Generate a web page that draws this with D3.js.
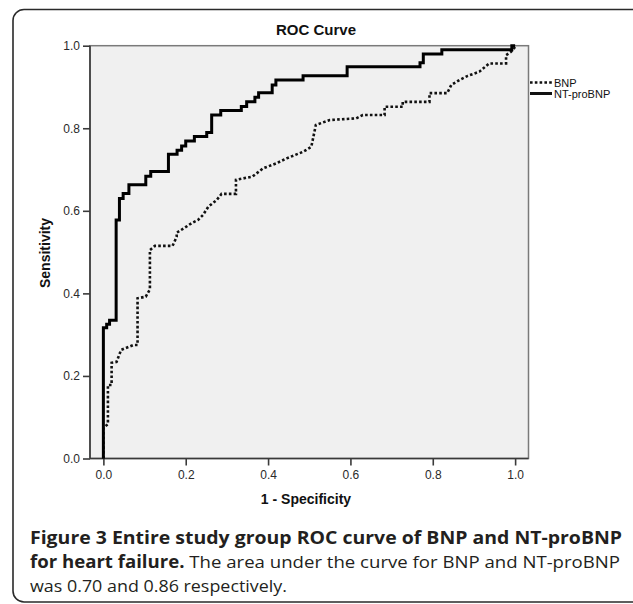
<!DOCTYPE html>
<html>
<head>
<meta charset="utf-8">
<script src="https://cdn.jsdelivr.net/npm/d3@7"></script>
<style>
  html, body { margin: 0; padding: 0; background: #fff; }
  svg { display: block; }
</style>
</head>
<body>
<svg id="chart" width="633" height="604"></svg>
<script>
// ---- data ----
const tickValues = [0, 0.2, 0.4, 0.6, 0.8, 1.0];
const seriesNames = ["BNP", "NT-proBNP"];

const bnpFpr = [0, 0, 0.011, 0.011, 0.020, 0.020, 0.032, 0.043, 0.073, 0.083, 0.083, 0.103, 0.113, 0.113, 0.125, 0.168, 0.178, 0.178, 0.196, 0.214, 0.230, 0.242, 0.255, 0.275, 0.287, 0.322, 0.322, 0.362, 0.388, 0.420, 0.445, 0.485, 0.505, 0.516, 0.550, 0.614, 0.630, 0.683, 0.683, 0.727, 0.727, 0.792, 0.792, 0.835, 0.845, 0.865, 0.885, 0.913, 0.937, 0.978, 0.978, 0.990, 1.000, 1.000];
const bnpTpr = [0, 0.075, 0.083, 0.178, 0.178, 0.232, 0.234, 0.263, 0.275, 0.275, 0.388, 0.392, 0.410, 0.505, 0.515, 0.515, 0.537, 0.547, 0.558, 0.570, 0.578, 0.590, 0.610, 0.626, 0.641, 0.641, 0.675, 0.683, 0.703, 0.715, 0.727, 0.743, 0.755, 0.808, 0.820, 0.824, 0.832, 0.832, 0.852, 0.852, 0.864, 0.864, 0.885, 0.885, 0.905, 0.917, 0.927, 0.937, 0.957, 0.957, 0.977, 0.985, 0.997, 1.000];

const ntFpr = [0, 0, 0.008, 0.008, 0.015, 0.015, 0.031, 0.031, 0.039, 0.039, 0.048, 0.048, 0.062, 0.062, 0.103, 0.103, 0.115, 0.115, 0.158, 0.158, 0.179, 0.179, 0.190, 0.190, 0.200, 0.200, 0.221, 0.221, 0.251, 0.251, 0.263, 0.263, 0.285, 0.285, 0.335, 0.335, 0.348, 0.348, 0.368, 0.368, 0.377, 0.377, 0.410, 0.410, 0.419, 0.419, 0.485, 0.485, 0.592, 0.592, 0.769, 0.769, 0.777, 0.777, 0.822, 0.822, 0.992, 0.992, 1.000];
const ntTpr = [0, 0.317, 0.317, 0.325, 0.325, 0.335, 0.335, 0.578, 0.578, 0.630, 0.630, 0.642, 0.642, 0.663, 0.663, 0.684, 0.684, 0.695, 0.695, 0.737, 0.737, 0.747, 0.747, 0.757, 0.757, 0.769, 0.769, 0.780, 0.780, 0.790, 0.790, 0.832, 0.832, 0.843, 0.843, 0.853, 0.853, 0.864, 0.864, 0.875, 0.875, 0.886, 0.886, 0.905, 0.905, 0.917, 0.917, 0.927, 0.927, 0.949, 0.949, 0.959, 0.959, 0.980, 0.980, 0.990, 0.990, 1.000, 1.000];

const titleText = "ROC Curve";
const xLabel = "1 - Specificity";
const yLabel = "Sensitivity";
const captionBold1 = "Figure 3 Entire study group ROC curve of BNP and NT-proBNP";
const captionBold2 = "for heart failure.";
const captionRest2 = " The area under the curve for BNP and NT-proBNP";
const captionLine3 = "was 0.70 and 0.86 respectively.";

// ---- drawing ----
const svg = d3.select("#chart");
const chartFont = "'Liberation Sans', Arial, sans-serif";
const capFont = "'Open Sans', 'Noto Sans', sans-serif";

// outer rounded frame
svg.append("rect")
  .attr("x", 13).attr("y", 9.5).attr("width", 632).attr("height", 592.5)
  .attr("rx", 11).attr("ry", 11)
  .attr("fill", "none").attr("stroke", "#2a2a2a").attr("stroke-width", 1.6);

const pL = 90, pR = 528.5, pT = 45.7, pB = 458.5;
const x = d3.scaleLinear().domain([-0.0325, 1.0325]).range([pL, pR]);
const y = d3.scaleLinear().domain([0, 1]).range([pB, pT]);

// plot background
svg.append("rect")
  .attr("x", pL).attr("y", pT).attr("width", pR - pL).attr("height", pB - pT)
  .attr("fill", "#f0f0f0").attr("stroke", "#7a7a7a").attr("stroke-width", 1.5);

// axes
const yAxis = d3.axisLeft(y).tickValues(tickValues).tickFormat(d3.format(".1f")).tickSize(7).tickPadding(3);
const xAxis = d3.axisBottom(x).tickValues(tickValues).tickFormat(d3.format(".1f")).tickSize(7).tickPadding(5);

const gy = svg.append("g").attr("transform", `translate(${pL},0)`).call(yAxis);
const gx = svg.append("g").attr("transform", `translate(0,${pB})`).call(xAxis);
[gx, gy].forEach(g => {
  g.select(".domain").attr("stroke", "#3a3a3a").attr("stroke-width", 1.6);
  g.selectAll(".tick line").attr("stroke", "#3a3a3a").attr("stroke-width", 1.6);
  g.selectAll(".tick text").attr("fill", "#2a2a2a")
    .style("font-family", chartFont).style("font-size", "12px");
});
gx.select(".domain").attr("d", `M${pL},0H${pR}`);
gy.select(".domain").attr("d", `M0,${pT}V${pB}`);

// curves
const line = d3.line().x(d => x(d[0])).y(d => y(d[1]));
const bnpPts = bnpFpr.map((v, i) => [v, bnpTpr[i]]);
const ntPts = ntFpr.map((v, i) => [v, ntTpr[i]]);

svg.append("path").datum(bnpPts).attr("d", line)
  .attr("fill", "none").attr("stroke", "#111").attr("stroke-width", 2.6)
  .attr("stroke-dasharray", "2.6,2.2").attr("stroke-linejoin", "miter");
svg.append("path").datum(ntPts).attr("d", line)
  .attr("fill", "none").attr("stroke", "#000").attr("stroke-width", 3)
  .attr("stroke-linejoin", "miter");

// title & axis labels
svg.append("text").attr("x", 316).attr("y", 35).attr("text-anchor", "middle")
  .style("font-family", chartFont).style("font-size", "15px").style("font-weight", "bold")
  .attr("fill", "#111").text(titleText);
svg.append("text").attr("x", 306).attr("y", 504).attr("text-anchor", "middle")
  .style("font-family", chartFont).style("font-size", "14px").style("font-weight", "bold")
  .attr("fill", "#111").text(xLabel);
svg.append("text").attr("transform", "translate(50,253) rotate(-90)").attr("text-anchor", "middle")
  .style("font-family", chartFont).style("font-size", "14px").style("font-weight", "bold")
  .attr("fill", "#111").text(yLabel);

// legend
const legY = [82.5, 93.5];
const legDash = ["2.6,2.2", null];
const legW = [2.6, 3];
seriesNames.forEach((name, i) => {
  svg.append("line").attr("x1", 530).attr("x2", 552).attr("y1", legY[i]).attr("y2", legY[i])
    .attr("stroke", "#111").attr("stroke-width", legW[i])
    .attr("stroke-dasharray", legDash[i]);
  svg.append("text").attr("x", 554).attr("y", legY[i] + 4)
    .style("font-family", chartFont).style("font-size", "11px")
    .attr("fill", "#111").text(name);
});

// caption
const cap = svg.append("g").style("font-family", capFont).style("font-size", "17px").attr("fill", "#231f20");
cap.append("text").attr("x", 30).attr("y", 544).style("font-weight", "bold")
  .attr("textLength", 592).attr("lengthAdjust", "spacingAndGlyphs").text(captionBold1);
const t2 = cap.append("text").attr("x", 30).attr("y", 568)
  .attr("textLength", 590).attr("lengthAdjust", "spacingAndGlyphs");
t2.append("tspan").style("font-weight", "bold").text(captionBold2);
t2.append("tspan").style("font-weight", "normal").text(captionRest2);
cap.append("text").attr("x", 30).attr("y", 592)
  .attr("textLength", 257).attr("lengthAdjust", "spacingAndGlyphs").text(captionLine3);
</script>
</body>
</html>
